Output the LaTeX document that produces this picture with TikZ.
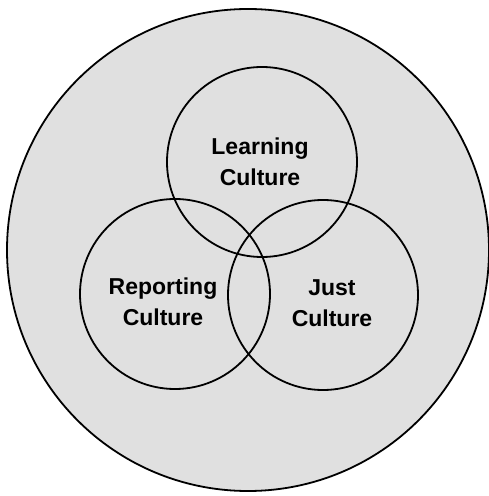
\documentclass[tikz,border=0pt]{standalone}
\usepackage{fontspec}
\setmainfont{Liberation Sans}
\usetikzlibrary{positioning}

\begin{document}
\begin{tikzpicture}[x=1pt,y=1pt,
  line width=1.8pt,black,
  ring/.style={circle,draw,inner sep=0pt,minimum size=190pt},
  label text/.style={align=center,font=\bfseries\fontsize{23}{31}\selectfont}]

  \useasboundingbox (0,0) rectangle (488,496);

  % outer circle
  \filldraw [fill=black!12] (248,246) circle [radius=241];

  \node (learning)  [ring] at (262,334) {};
  \node (reporting) [ring] at (175,202) {};
  \node (just)      [ring] at (323,201) {};

  % labels
  \node (learningtext)  [label text] at (260,334) {Learning\\Culture};
  \node (reportingtext) [label text] at (163,194) {Reporting\\Culture};
  \node (justtext)      [label text] at (332,193) {Just\\Culture};
\end{tikzpicture}
\end{document}
